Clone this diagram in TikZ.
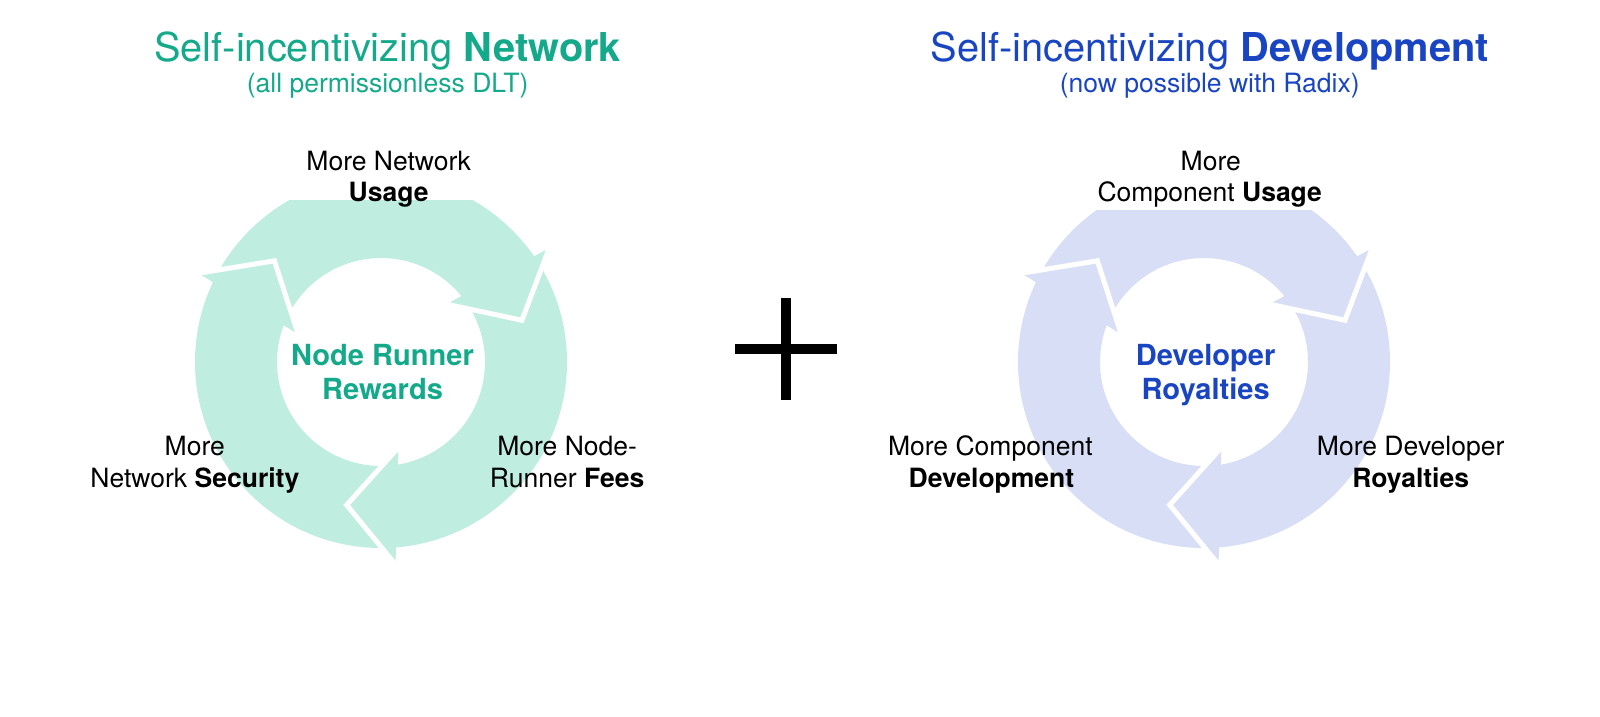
\documentclass[tikz,border=0pt]{standalone}
\usepackage{fontspec}
\setmainfont{TeX Gyre Heros}
\usetikzlibrary{calc}
\definecolor{grfill}{HTML}{BFEDDF}
\definecolor{grtext}{HTML}{14A98A}
\definecolor{blfill}{HTML}{D8DEF5}
\definecolor{bltext}{HTML}{1A45C2}
\newcommand\cychead[3]{%
  \coordinate (hb) at ($(#1)+({#2}:145)$);
  \coordinate (ht) at ($(#1)+({#2-19.8}:147)$);
  \coordinate (hp) at ($(hb)!29.25pt!90:(ht)$);
  \coordinate (hq) at ($(hb)!29.25pt!-90:(ht)$);
  \fill[#3] (hp) -- (ht) -- (hq) -- cycle;
  \draw[gapline] (hp) -- (ht) -- (hq);
}
\begin{document}
\begin{tikzpicture}[x=0.5pt,y=0.5pt,
  gapline/.style={white,line width=2.5pt,line join=miter,line cap=butt},
  ttl/.style={font=\fontsize{19.5}{23}\selectfont,anchor=base,inner sep=0pt},
  sub/.style={font=\fontsize{13}{15}\selectfont,anchor=base,inner sep=0pt},
  lbl/.style={font=\fontsize{13}{15.5}\selectfont,anchor=base,inner sep=0pt,text=black},
  ctr/.style={font=\fontsize{14.25}{17}\selectfont\bfseries,anchor=base,inner sep=0pt},
  plusline/.style={black,line width=5pt,line cap=butt}]
\useasboundingbox (0,0) rectangle (1600,717);
\fill[white] (0,0) rectangle (1600,717);

\coordinate (LC) at (381,355);
\coordinate (RC) at (1204,355);

% rings
\fill[grfill,even odd rule] (LC) circle[radius=186] (LC) circle[radius=104];
\fill[blfill,even odd rule] (RC) circle[radius=186] (RC) circle[radius=104];

% arrow heads
\cychead{LC}{-83.7}{grfill}
\cychead{LC}{36.3}{grfill}
\cychead{LC}{156.3}{grfill}
\cychead{RC}{-83.7}{blfill}
\cychead{RC}{36.3}{blfill}
\cychead{RC}{156.3}{blfill}

% white backs of the top labels
\fill[white] (288,517) rectangle (474,547);
\fill[white] (1090,507) rectangle (1318,547);

\begin{scope}[shift={(0,717)},scale=1.02,shift={(0,-717)},transform shape]
% titles
\node[ttl,text=grtext] (lt) at (380,657) {Self-incentivizing \textbf{Network}};
\node[sub,text=grtext] (ls) at (380,626) {(all permissionless DLT)};
\node[ttl,text=bltext] (rt) at (1186,657) {Self-incentivizing \textbf{Development}};
\node[sub,text=bltext] (rs) at (1186,626) {(now possible with Radix)};

% left cycle labels
\node[lbl] (lu1) at (381,550) {More Network};
\node[lbl] (lu2) at (381,519) {\textbf{Usage}};
\node[lbl] (ll1) at (191,270) {More};
\node[lbl] (ll2) at (191,239) {Network \textbf{Security}};
\node[lbl] (lr1) at (556,270) {More Node-};
\node[lbl] (lr2) at (556,239) {Runner \textbf{Fees}};
\node[ctr,text=grtext] (lc1) at (375,359) {Node Runner};
\node[ctr,text=grtext] (lc2) at (375,325) {Rewards};

% right cycle labels
\node[lbl] (ru1) at (1187,550) {More};
\node[lbl] (ru2) at (1186,519) {Component \textbf{Usage}};
\node[lbl] (rl1) at (971,270) {More Component};
\node[lbl] (rl2) at (972,239) {\textbf{Development}};
\node[lbl] (rr1) at (1383,270) {More Developer};
\node[lbl] (rr2) at (1383,239) {\textbf{Royalties}};
\node[ctr,text=bltext] (rc1) at (1182,359) {Developer};
\node[ctr,text=bltext] (rc2) at (1182,325) {Royalties};

% plus sign
\coordinate (plus) at (770,375);
\draw[plusline] ($(plus)+(-50,0)$) -- ($(plus)+(50,0)$);
\draw[plusline] ($(plus)+(0,-50)$) -- ($(plus)+(0,50)$);
\end{scope}
\end{tikzpicture}
\end{document}
